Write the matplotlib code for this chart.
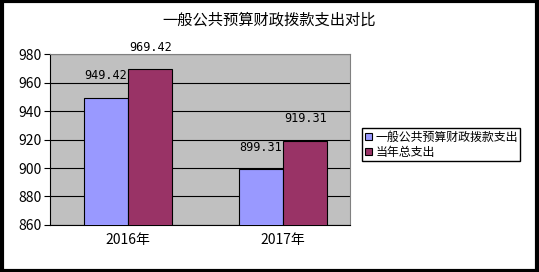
import matplotlib
matplotlib.use("Agg")
import matplotlib.pyplot as plt
import numpy as np
from matplotlib.patches import Rectangle

plt.rcParams['font.family'] = ['Noto Sans CJK SC', 'DejaVu Sans']

years = ["2016年", "2017年"]
budget = [949.42, 899.31]
total = [969.42, 919.31]
series_names = ["一般公共预算财政拨款支出", "当年总支出"]

fig = plt.figure(figsize=(5.39, 2.72), dpi=100)
ax = fig.add_axes([0.0928, 0.173, 0.557, 0.628])
ax.set_facecolor("#C0C0C0")

x = np.arange(len(years))
w = 0.285
b1 = ax.bar(x - w / 2, budget, w, color="#9999FF", edgecolor="black", lw=0.8,
            label=series_names[0], zorder=3)
b2 = ax.bar(x + w / 2, total, w, color="#993366", edgecolor="black", lw=0.8,
            label=series_names[1], zorder=3)
for bars, vals in ((b1, budget), (b2, total)):
    for r, v in zip(bars, vals):
        ax.annotate(f"{v:.2f}", (r.get_x() + r.get_width() / 2, v),
                    xytext=(0, 11), textcoords="offset points",
                    ha="center", va="bottom", fontsize=8.5,
                    family=["DejaVu Sans Mono"], clip_on=False, zorder=4)

ax.set_xlim(-0.503, 1.432)
ax.set_ylim(860, 980)
ax.set_yticks(np.arange(860, 981, 20))
ax.yaxis.grid(True, color="black", lw=0.8, zorder=1)
ax.set_xticks(x)
ax.set_xticklabels(years, fontsize=10)
ax.tick_params(axis="x", length=0, pad=6)
ax.tick_params(axis="y", labelsize=10, length=4, direction="out", pad=2)
for s in ("top", "right"):
    ax.spines[s].set_color("#808080")
ax.spines["left"].set_color("black")
ax.spines["bottom"].set_color("black")

ax.legend(loc="center left", bbox_to_anchor=(1.04, 0.47), fontsize=8.6,
          frameon=True, fancybox=False, edgecolor="black", framealpha=1,
          handlelength=0.6, handleheight=0.6, handletextpad=0.3,
          borderpad=0.2, labelspacing=0.15, borderaxespad=0)

fig.text(0.5, 0.925, "一般公共预算财政拨款支出对比", ha="center", va="center",
         fontsize=11)
fig.patches.append(Rectangle((0.003, 0.005), 0.994, 0.99, transform=fig.transFigure,
                             fill=False, edgecolor="black", lw=3))

fig.savefig("out.png", dpi=100)
